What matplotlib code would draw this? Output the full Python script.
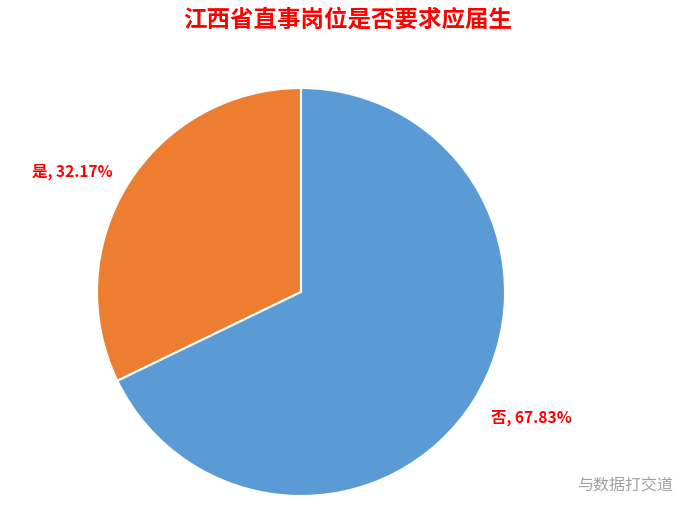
import matplotlib.pyplot as plt

plt.rcParams['font.family'] = ['Noto Sans CJK SC', 'DejaVu Sans']

categories = ['是', '否']
values = [32.17, 67.83]
colors = ['#ED7D31', '#5B9BD5']
title = '江西省直事岗位是否要求应届生'

fig = plt.figure(figsize=(6.84, 5.06), dpi=100)
# pie axes: centre (301, 293) px, radius ~204 px
ax = fig.add_axes([(301 - 204) / 684, (506 - 497) / 506, 408 / 684, 408 / 506])
wedges, _ = ax.pie(values, colors=colors, startangle=90, counterclock=True,
                   radius=1, wedgeprops=dict(edgecolor='white', linewidth=1.5))
ax.set_xlim(-1, 1)
ax.set_ylim(-1, 1)
ax.set_aspect('equal')
ax.axis('off')

# label positions (data coords of pie axes)
label_pos = [(-1.12, 0.595), (1.13, -0.61)]
for cat, val, pos in zip(categories, values, label_pos):
    ax.text(pos[0], pos[1], f'{cat}, {val:.2f}%', color='#FF0000', fontsize=11.2,
            fontweight='bold', ha='center', va='center', clip_on=False)

fig.text(348 / 684, 1 - 20 / 506, title, color='#FF0000', fontsize=16.9,
         fontweight='bold', ha='center', va='center')
fig.text(625 / 684, 1 - 486 / 506, '与数据打交道', color='#A0A0A0', fontsize=11.5,
         ha='center', va='center')

fig.savefig('out.png', dpi=100)
